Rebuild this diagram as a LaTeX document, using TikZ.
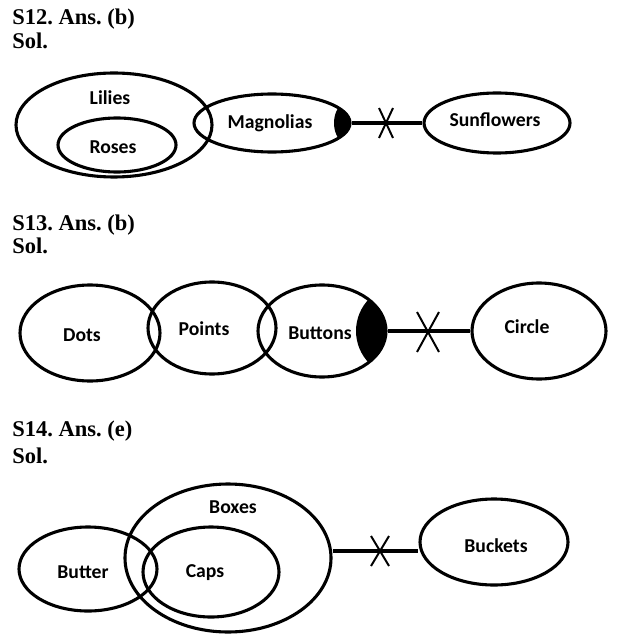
\documentclass[tikz,border=0pt]{standalone}
\usepackage{fontspec}
\setmainfont{Liberation Serif}
\newfontfamily\calfont{Carlito}
\usetikzlibrary{shapes.geometric, positioning}
\newcommand{\px}{0.025cm}
\frenchspacing

\begin{document}
\begin{tikzpicture}[x=\px, y=-\px,
    set/.style={ellipse, draw, line width=2.2pt, inner sep=0pt},
    tag/.style={font=\calfont\bfseries\fontsize{14pt}{16pt}\selectfont, inner sep=0pt},
    head/.style={anchor=west, inner sep=0pt, font=\bfseries\fontsize{16pt}{18pt}\selectfont},
    link/.style={line width=2.2pt},
    cross/.style={line width=1.4pt}]
    \useasboundingbox (0,0) rectangle (630,635);

    % S12
    \node[head] (h12) at (12,19) {S12. Ans. (b)};
    \node[head] (sol12) at (12,41) {Sol.};
    \node[set, minimum width=196*\px, minimum height=104*\px] (lilies) at (114,125) {};
    \node[set, minimum width=118*\px, minimum height=54*\px] (roses) at (117,145) {};
    \node[set, minimum width=156*\px, minimum height=58*\px] (magnolias) at (272,123) {};
    \node[set, minimum width=146*\px, minimum height=60*\px] (sunflowers) at (497,123) {};
    \node[tag] (lilies-t) at (110,98) {Lilies};
    \node[tag] (roses-t) at (113,147) {Roses};
    \node[tag] (magnolias-t) at (270,123) {Magnolias};
    \node[tag] (sunflowers-t) at (495,120) {Sunflowers};
    \begin{scope}
        \clip (magnolias.center) ellipse ({78*\px} and {29*\px});
        \fill (364,123) circle ({30*\px});
    \end{scope}
    \coordinate (x12) at (386,123);
    \draw[link] (magnolias) -- (sunflowers);
    \draw[cross] (x12) +(-7,-15) -- +(7,15) (x12) +(7,-15) -- +(-7,15);

    % S13
    \node[head] (h13) at (12,225) {S13. Ans. (b)};
    \node[head] (sol13) at (12,246) {Sol.};
    \node[set, minimum width=140*\px, minimum height=96*\px] (dots) at (90,333) {};
    \node[set, minimum width=128*\px, minimum height=92*\px] (points) at (212,328) {};
    \node[set, minimum width=128*\px, minimum height=92*\px] (buttons) at (322,331) {};
    \node[set, minimum width=134*\px, minimum height=96*\px] (circ) at (539,331) {};
    \node[tag] (dots-t) at (82,335) {Dots};
    \node[tag] (points-t) at (204,329) {Points};
    \node[tag] (buttons-t) at (320,333) {Buttons};
    \node[tag] (circ-t) at (527,327) {Circle};
    \begin{scope}
        \clip (buttons.center) ellipse ({64*\px} and {46*\px});
        \fill (402,331) circle ({46*\px});
    \end{scope}
    \coordinate (x13) at (428,332);
    \draw[link] (buttons) -- (circ);
    \draw[cross] (x13) +(-11,-20) -- +(11,20) (x13) +(11,-20) -- +(-11,20);

    % S14
    \node[head] (h14) at (12,431) {S14. Ans. (e)};
    \node[head] (sol14) at (12,456) {Sol.};
    \node[set, minimum width=206*\px, minimum height=148*\px] (boxes) at (228,558) {};
    \node[set, minimum width=136*\px, minimum height=90*\px] (caps) at (211,572) {};
    \node[set, minimum width=138*\px, minimum height=84*\px] (butter) at (88,569) {};
    \node[set, minimum width=148*\px, minimum height=86*\px] (buckets) at (494,542) {};
    \node[tag] (boxes-t) at (233,507) {Boxes};
    \node[tag] (caps-t) at (205,573) {Caps};
    \node[tag] (butter-t) at (83,572) {Butter};
    \node[tag] (buckets-t) at (496,546) {Buckets};
    \coordinate (x14) at (380,551);
    \draw[link] (boxes.east |- x14) -- (buckets.west |- x14);
    \draw[cross] (x14) +(-9,-15) -- +(9,15) (x14) +(9,-15) -- +(-9,15);
\end{tikzpicture}
\end{document}
